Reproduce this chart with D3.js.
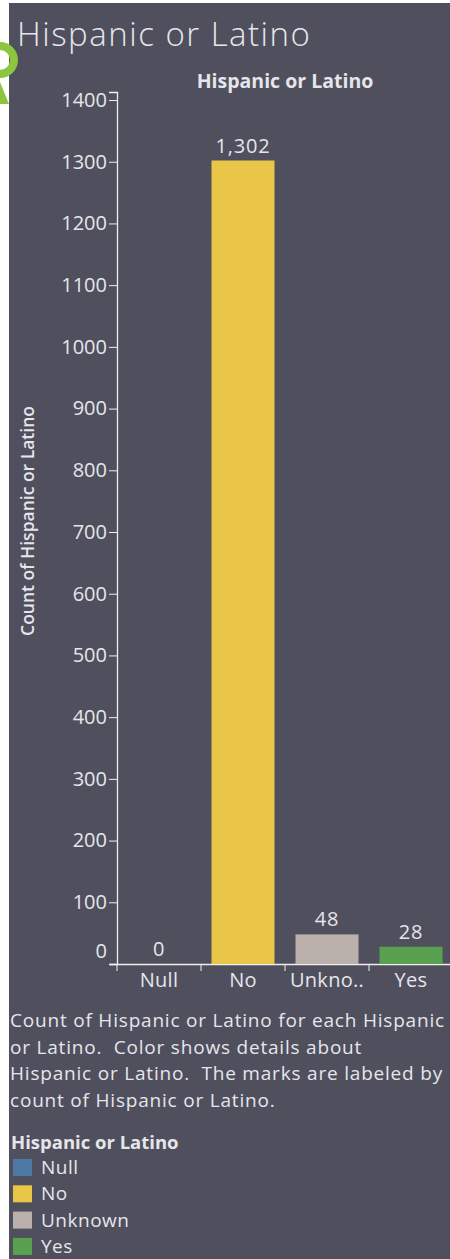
<!DOCTYPE html>
<html>
<head>
<meta charset="utf-8">
<script src="https://cdn.jsdelivr.net/npm/d3@7"></script>
<style>
  body { margin: 0; background: #fff; }
  svg { display: block; font-family: "Open Sans", "Noto Sans", sans-serif; }
</style>
</head>
<body>
<svg id="chart" width="450" height="1259"></svg>
<script>
var categories = ["Null", "No", "Unknown", "Yes"],
  axisLabels = ["Null", "No", "Unkno..", "Yes"],
  counts = [0, 1302, 48, 28],
  colors = ["#4e79a7", "#e9c647", "#bab0ac", "#59a14f"],
  yTicks = [0, 100, 200, 300, 400, 500, 600, 700, 800, 900, 1000, 1100, 1200, 1300, 1400],
  note = ["Count of Hispanic or Latino for each Hispanic",
          "or Latino.  Color shows details about",
          "Hispanic or Latino.  The marks are labeled by",
          "count of Hispanic or Latino."];

var svg = d3.select("#chart"),
  textColor = "#e6e6ea",
  font = "'Open Sans', 'Noto Sans', sans-serif";

// panel background
svg.append("rect")
  .attr("x", 9).attr("y", 3)
  .attr("width", 441).attr("height", 1256)
  .attr("fill", "#4f4f5e");

// bit of the logo poking in on the left
svg.append("path")
  .attr("d", "M0,42 A18,18 0 0 1 0,78 L0,70 A10,10 0 0 0 0,50 Z")
  .attr("fill", "#8cc63e");
svg.append("path")
  .attr("d", "M0,82 L9,104 L0,104 Z")
  .attr("fill", "#8cc63e");

svg.append("text")
  .attr("x", 17).attr("y", 46)
  .attr("fill", textColor)
  .attr("font-size", 33)
  .attr("font-weight", 300)
  .attr("letter-spacing", 1.5)
  .text("Hispanic or Latino");

svg.append("text")
  .attr("x", 285).attr("y", 88)
  .attr("text-anchor", "middle")
  .attr("fill", textColor)
  .attr("font-size", 19.5)
  .attr("font-weight", 700)
  .text("Hispanic or Latino");

var x = d3.scaleBand()
  .domain(categories)
  .range([117, 453])
  .paddingInner(0.25)
  .paddingOuter(0.125);

var y = d3.scaleLinear()
  .domain([0, 1413])
  .range([964, 92]);

var g = svg.append("g");

// y axis
var yAxis = g.append("g")
  .attr("transform", "translate(117,0)")
  .call(d3.axisLeft(y).tickValues(yTicks).tickSize(8).tickPadding(2).tickFormat(d3.format("d")));
yAxis.select(".domain").attr("stroke", "#f0f0f0").attr("stroke-width", 1.3);
yAxis.selectAll(".tick line").attr("stroke", "#f0f0f0");
yAxis.selectAll(".tick text")
  .attr("fill", textColor)
  .attr("font-size", 20)
  .attr("font-family", font);
// keep the 0 label off the baseline, as Tableau does
yAxis.selectAll(".tick").filter(function (d) { return d === 0; })
  .select("text").attr("dy", "-0.35em");
yAxis.selectAll(".tick").filter(function (d) { return d === 0; })
  .select("line").remove();

// x axis
var xAxis = g.append("g")
  .attr("transform", "translate(0,964)")
  .call(d3.axisBottom(x).tickSize(0).tickPadding(9)
    .tickFormat(function (d, i) { return axisLabels[i]; }));
xAxis.select(".domain").remove();
xAxis.selectAll(".tick text")
  .attr("fill", textColor)
  .attr("font-size", 20)
  .attr("letter-spacing", 0.3)
  .attr("font-family", font);

g.append("line")
  .attr("x1", 110).attr("x2", 450)
  .attr("y1", 964.5).attr("y2", 964.5)
  .attr("stroke", "#f0f0f0").attr("stroke-width", 1.3);

g.selectAll(".sep")
  .data(categories)
  .enter().append("line")
  .attr("x1", function (d) { return x(d) - x.step() * x.paddingInner() / 2; })
  .attr("x2", function (d) { return x(d) - x.step() * x.paddingInner() / 2; })
  .attr("y1", 964).attr("y2", 971)
  .attr("stroke", "#f0f0f0");

// bars
g.selectAll(".bar")
  .data(counts)
  .enter().append("rect")
  .attr("x", function (d, i) { return x(categories[i]); })
  .attr("y", function (d) { return y(d); })
  .attr("width", x.bandwidth())
  .attr("height", function (d) { return y(0) - y(d); })
  .attr("fill", function (d, i) { return colors[i]; });

g.selectAll(".val")
  .data(counts)
  .enter().append("text")
  .attr("x", function (d, i) { return x(categories[i]) + x.bandwidth() / 2; })
  .attr("y", function (d) { return y(d) - 8; })
  .attr("text-anchor", "middle")
  .attr("fill", textColor)
  .attr("font-size", 20)
  .attr("letter-spacing", 0.8)
  .text(function (d) { return d3.format(",")(d); });

// y axis title
svg.append("text")
  .attr("transform", "translate(34,521) rotate(-90)")
  .attr("text-anchor", "middle")
  .attr("fill", textColor)
  .attr("font-size", 17.5)
  .attr("font-weight", 600)
  .text("Count of Hispanic or Latino");

// caption
svg.selectAll(".note")
  .data(note)
  .enter().append("text")
  .attr("x", 10)
  .attr("y", function (d, i) { return 1027 + i * 26.7; })
  .attr("fill", textColor)
  .attr("font-size", 19)
  .attr("letter-spacing", 0.8)
  .style("white-space", "pre")
  .text(function (d) { return d; });

// legend
svg.append("text")
  .attr("x", 11).attr("y", 1149)
  .attr("fill", textColor)
  .attr("font-size", 18.5)
  .attr("font-weight", 700)
  .text("Hispanic or Latino");

var legend = svg.selectAll(".legend")
  .data(categories)
  .enter().append("g")
  .attr("transform", function (d, i) { return "translate(13," + (1159 + i * 26.3) + ")"; });

legend.append("rect")
  .attr("width", 19).attr("height", 17)
  .attr("fill", function (d, i) { return colors[i]; });

legend.append("text")
  .attr("x", 28).attr("y", 15)
  .attr("fill", textColor)
  .attr("font-size", 19)
  .attr("letter-spacing", 0.5)
  .text(function (d) { return d; });
</script>
</body>
</html>
